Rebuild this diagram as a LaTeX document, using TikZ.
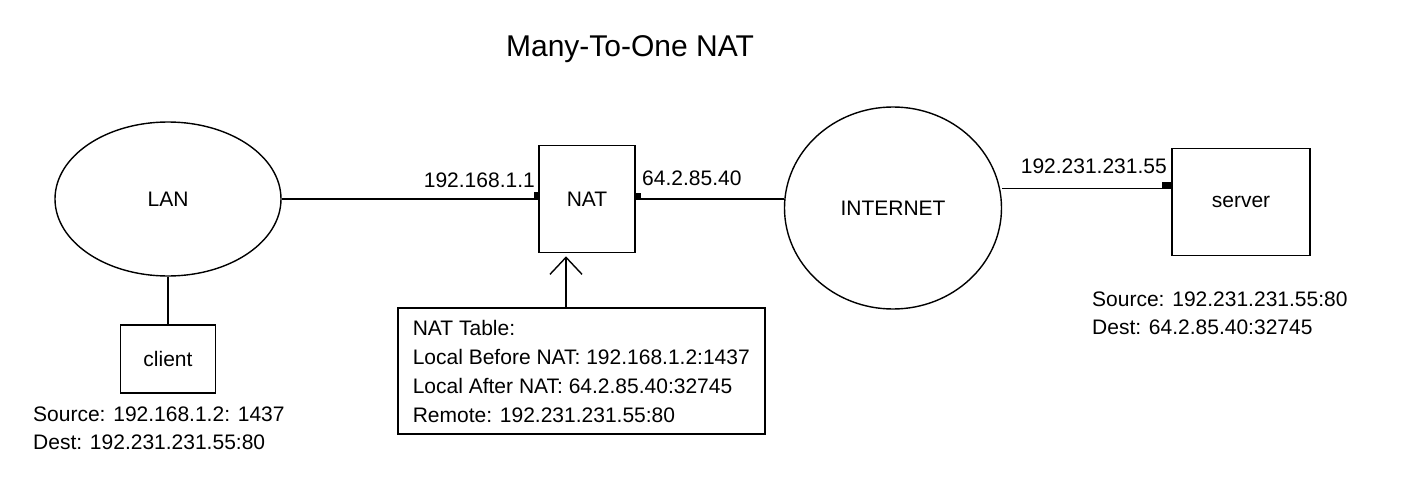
\documentclass[tikz,border=0pt]{standalone}
\usepackage{fontspec}
\setmainfont{Liberation Sans}
\usepackage{tikz}
\usetikzlibrary{arrows.meta, positioning, shapes.geometric}
\tikzset{
    netw/.style={draw, ellipse, line width=1.4pt, inner sep=0pt},
    dev/.style={draw, rectangle, line width=1.6pt, inner sep=0pt},
    tab/.style={draw, rectangle, line width=1.6pt, align=left, inner xsep=15pt, inner ysep=12pt, font=\fontsize{21}{29}\selectfont},
    lbl/.style={inner sep=0pt, align=left},
    conn/.style={-, line width=1.6pt},
    arr/.style={-{Straight Barb[length=17pt, width=32pt, line width=1.4pt]}, line width=1.6pt},
    plug/.style={fill=black},
}

\begin{document}
\begin{tikzpicture}[x=1pt, y=-1pt, font=\fontsize{21}{28}\selectfont]
    \useasboundingbox (0,0) rectangle (1414,487);
    \node [anchor=base, font=\fontsize{30}{36}\selectfont] (title) at (630,57) {Many-To-One NAT};

    \node [netw, minimum width=226pt, minimum height=154pt] (lan) at (168,199) {LAN};
    \node [dev, minimum width=96pt, minimum height=107pt] (nat) at (587,199) {NAT};
    \node [netw, minimum width=217pt, minimum height=202pt] (inet) at (893,208) {INTERNET};
    \node [dev, minimum width=138pt, minimum height=107pt] (srv) at (1241,202) {server};
    \node [dev, minimum width=95pt, minimum height=68pt] (cli) at (168,359) {client};

    \node [tab, anchor=north west] (tbl) at (397,307) {NAT Table:\\ Local Before NAT: 192.168.1.2:1437\\ Local After NAT: 64.2.85.40:32745\\ Remote: 192.231.231.55:80};

    \node [lbl, anchor=base east] (natin) at (535,187) {192.168.1.1};
    \node [lbl, anchor=base west] (natout) at (642,185) {64.2.85.40};
    \node [lbl, anchor=base east] (srvip) at (1167,173) {192.231.231.55};
    \node [lbl, anchor=north west] (clipkt) at (33,407) {Source: 192.168.1.2: 1437\\ Dest: 192.231.231.55:80};
    \node [lbl, anchor=north west] (srvpkt) at (1092,292) {Source: 192.231.231.55:80\\ Dest: 64.2.85.40:32745};

    \draw[conn] (lan) -- (nat);
    \draw[conn] (nat.east) -- (nat.east -| inet.west);
    \draw[conn] (srv.169) -- (srv.169 -| inet.east);
    \draw[conn] (lan) -- (cli);
    \draw[arr] ([xshift=-21pt]nat.south |- tbl.north) -- ([xshift=-21pt, yshift=-3pt]nat.south);

    % port markers
    \fill[plug] ([xshift=-4pt]nat.west) rectangle ++(5,-7);
    \fill[plug] (nat.east) rectangle ++(5,-6);
    \fill[plug] (srv.169) rectangle ++(-9,-6);
\end{tikzpicture}
\end{document}
